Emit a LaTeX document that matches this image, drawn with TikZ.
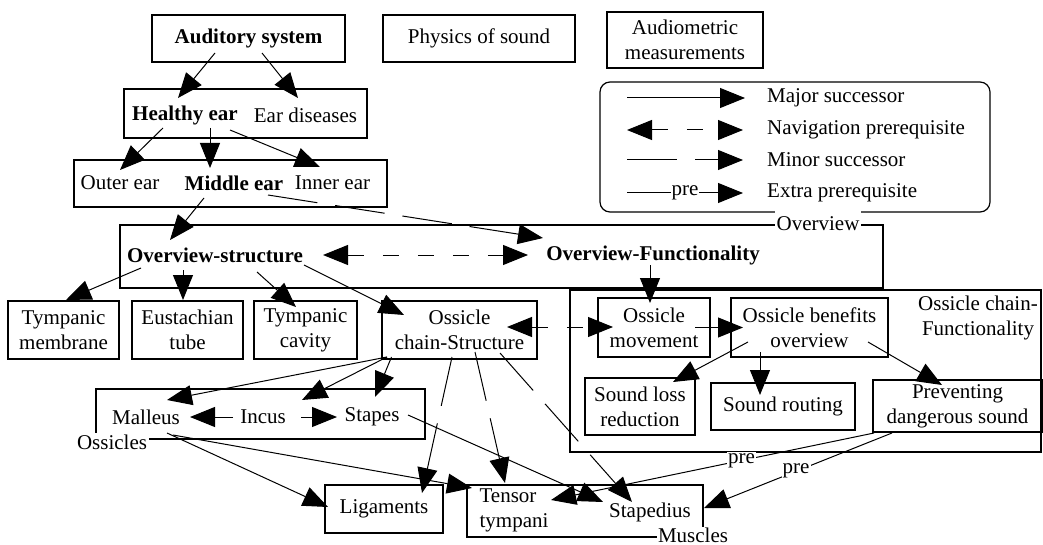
\documentclass[tikz,border=0pt]{standalone}
\usepackage{fontspec}
\setmainfont{Liberation Serif}
\usetikzlibrary{positioning,arrows.meta,calc}

\begin{document}
\begin{tikzpicture}[
  x=1pt, y=-1pt,
  font=\fontsize{21}{25}\selectfont,
  box/.style={rectangle, draw, line width=1.2pt, align=center, inner sep=0pt},
  grp/.style={rectangle, draw, line width=1.2pt, inner sep=0pt},
  txt/.style={inner sep=1pt, align=center},
  tag/.style={fill=white, inner sep=2pt},
  major/.style={-{Triangle[length=25pt, width=20pt]}, line width=1pt},
  minor/.style={major, dash pattern=on 50pt off 18pt},
  nav/.style={{Triangle[length=25pt, width=20pt]}-{Triangle[length=25pt, width=20pt]}, line width=1pt, dash pattern=on 16pt off 19pt}
]
\useasboundingbox (0,0) rectangle (1043,545);
% group frames
\node[grp, minimum width=243pt, minimum height=49pt] (earg) at (245.5,113.5) {};
\node[grp, minimum width=313pt, minimum height=47pt] (midg) at (230.5,183.5) {};
\node[grp, minimum width=763pt, minimum height=63pt] (ovg) at (501.5,256.5) {};
\node[grp, minimum width=471pt, minimum height=162pt] (fung) at (805.5,371) {};
\node[grp, minimum width=329pt, minimum height=50pt] (ossg) at (260.5,414) {};
\node[grp, minimum width=236pt, minimum height=52pt] (musg) at (585,511) {};
\node[grp, rounded corners=10pt, minimum width=390pt, minimum height=130pt] (legend) at (795,147) {};
% top row
\node[box, minimum width=193pt, minimum height=47pt] (aud) at (248.5,38.5) {\bfseries Auditory system};
\node[box, minimum width=192pt, minimum height=47pt] (phys) at (479,38.5) {Physics of sound};
\node[box, minimum width=156pt, minimum height=56pt] (audio) at (685,40) {Audiometric\\measurements};
% ear and overview
\node[txt] (hlth) at (185,115) {\bfseries Healthy ear};
\node[txt] (dis) at (305.5,115) {Ear diseases};
\node[txt] (outer) at (120,183) {Outer ear};
\node[txt] (middle) at (234,183) {\bfseries Middle ear};
\node[txt] (inner) at (332.5,183) {Inner ear};
\node[txt] (ovs) at (215,255) {\bfseries Overview-structure};
\node[txt] (ovf) at (653,255) {\bfseries Overview-Functionality};
% structure row
\node[box, minimum width=111pt, minimum height=58pt] (tymem) at (63.5,330) {Tympanic\\membrane};
\node[box, minimum width=111pt, minimum height=58pt] (eust) at (187.5,330) {Eustachian\\tube};
\node[box, minimum width=103pt, minimum height=58pt] (tycav) at (305.5,330) {Tympanic\\cavity};
\node[box, minimum width=155pt, minimum height=58pt] (chain) at (459.5,330) {Ossicle\\chain-Structure};
% functionality
\node[box, minimum width=112pt, minimum height=59pt] (move) at (654,327.5) {Ossicle\\movement};
\node[box, minimum width=157pt, minimum height=59pt] (benef) at (809.5,327.5) {Ossicle benefits\\overview};
\node[box, minimum width=110pt, minimum height=57pt] (sloss) at (640,406.5) {Sound loss\\reduction};
\node[box, minimum width=144pt, minimum height=47pt] (srout) at (783,406.5) {Sound routing};
\node[box, minimum width=169pt, minimum height=52pt] (prev) at (957.5,406) {Preventing\\dangerous sound};
\node[txt] (funtag) at (978,318) {Ossicle chain-\\Functionality};
% ossicles, ligaments, muscles
\node[txt] (mall) at (146,417) {Malleus};
\node[txt] (incus) at (263,417) {Incus};
\node[txt] (stap) at (372,417) {Stapes};
\node[box, minimum width=118pt, minimum height=48pt] (liga) at (384,509) {Ligaments};
\node[txt, align=left] (tens) at (514,510) {Tensor\\tympani};
\node[txt] (stpd) at (650,512) {Stapedius};
% legend
\coordinate (lg1a) at (627,98);  \coordinate (lg1b) at (745,98);
\coordinate (lg2a) at (627,130); \coordinate (lg2b) at (743,130);
\coordinate (lg3a) at (627,160); \coordinate (lg3b) at (743,160);
\coordinate (lg4a) at (627,193); \coordinate (lg4b) at (743,193);
\draw[major] (lg1a) -- (lg1b);
\draw[nav] (lg2a) -- (lg2b);
\draw[minor] (lg3a) -- (lg3b);
\draw[major] (lg4a) -- node[tag, inner sep=1pt] {pre} (lg4b);
\node[anchor=west, inner sep=0pt] (lgmaj) at (767,98) {Major successor};
\node[anchor=west, inner sep=0pt] (lgnav) at (767,130) {Navigation prerequisite};
\node[anchor=west, inner sep=0pt] (lgmin) at (767,160) {Minor successor};
\node[anchor=west, inner sep=0pt] (lgpre) at (767,193) {Extra prerequisite};
% connectors
\draw[major] ($(aud)+(-33.5,14.5)$) -- ($(hlth)+(-7,-17)$);
\draw[major] ($(aud)+(13.5,14.5)$) -- ($(dis)+(-7.5,-17)$);
\draw[major] ($(hlth)+(-22,13)$) -- ($(outer)+(0,-13)$);
\draw[major] ($(hlth)+(25,13)$) -- ($(middle)+(-24,-15)$);
\draw[major] ($(hlth)+(45,15)$) -- ($(inner)+(-12.5,-16)$);
\draw[major] ($(middle)+(-30,15)$) -- ($(ovs)+(-45,-15)$);
\draw[minor] ($(middle)+(34,12)$) -- ($(ovf)+(-110,-17)$);
\draw[nav] ($(ovs)+(108,0)$) -- ($(ovf)+(-125,0)$);
\draw[major] ($(ovs)+(-74,13)$) -- ($(tymem)+(2.5,-30)$);
\draw[major] ($(ovs)+(-32,15)$) -- ($(eust)+(-4.5,-30)$);
\draw[major] ($(ovs)+(42,17)$) -- ($(tycav)+(-9.5,-23)$);
\draw[major] ($(ovs)+(89,10)$) -- ($(chain)+(-55.5,-15)$);
\draw[major] ($(ovf)+(-3,10)$) -- ($(move)+(-4,-24.5)$);
\draw[nav] ($(chain)+(47.5,-3)$) -- ($(move)+(-41,-0.5)$);
\draw[major] ($(move)+(41,0)$) -- ($(benef)+(-66.5,0)$);
\draw[major] ($(benef)+(-61.5,14.5)$) -- ($(sloss)+(33,-24.5)$);
\draw[major] ($(benef)+(-49.5,24.5)$) -- ($(srout)+(-23,-11.5)$);
\draw[major] ($(benef)+(58.5,14.5)$) -- ($(prev)+(-15.5,-21)$);
\draw[major] ($(chain)+(-72.5,27)$) -- ($(mall)+(21,-17)$);
\draw[major] ($(chain)+(-72.5,27)$) -- ($(incus)+(39,-17)$);
\draw[major] ($(chain)+(-68,27)$) -- ($(stap)+(3,-20)$);
\draw[major] ($(incus)+(-30,0)$) -- ($(mall)+(44,0)$);
\draw[minor] ($(incus)+(38,0)$) -- ($(stap)+(-35,0)$);
\draw[minor] ($(chain)+(-7.5,27)$) -- ($(liga)+(38,-16)$);
\draw[minor] ($(chain)+(15.5,22)$) -- ($(tens)+(-9,-27)$);
\draw[minor] ($(chain)+(40.5,23)$) -- ($(stpd)+(-18,-10)$);
\draw[major] ($(mall)+(21,16)$) -- ($(liga)+(-56,-2)$);
\draw[major] ($(mall)+(27,18)$) -- ($(tens)+(-42,-22)$);
\draw[major] ($(stap)+(36,-2)$) -- ($(stpd)+(-47,-10)$);
\draw[major] ($(prev)+(-83.5,27)$) -- node[tag, inner sep=1pt, pos=.41] {pre} ($(tens)+(37,-10)$);
\draw[major] ($(prev)+(-65.5,27)$) -- node[tag, inner sep=1pt, pos=.51] {pre} ($(stpd)+(54,-4)$);
% frame names
\node[tag, minimum height=28pt] (ovtag) at (818,224) {Overview};
\node[tag] (osstag) at (112,442) {Ossicles};
\node[tag, inner sep=1pt] (mustag) at (693,535) {Muscles};
\end{tikzpicture}
\end{document}
